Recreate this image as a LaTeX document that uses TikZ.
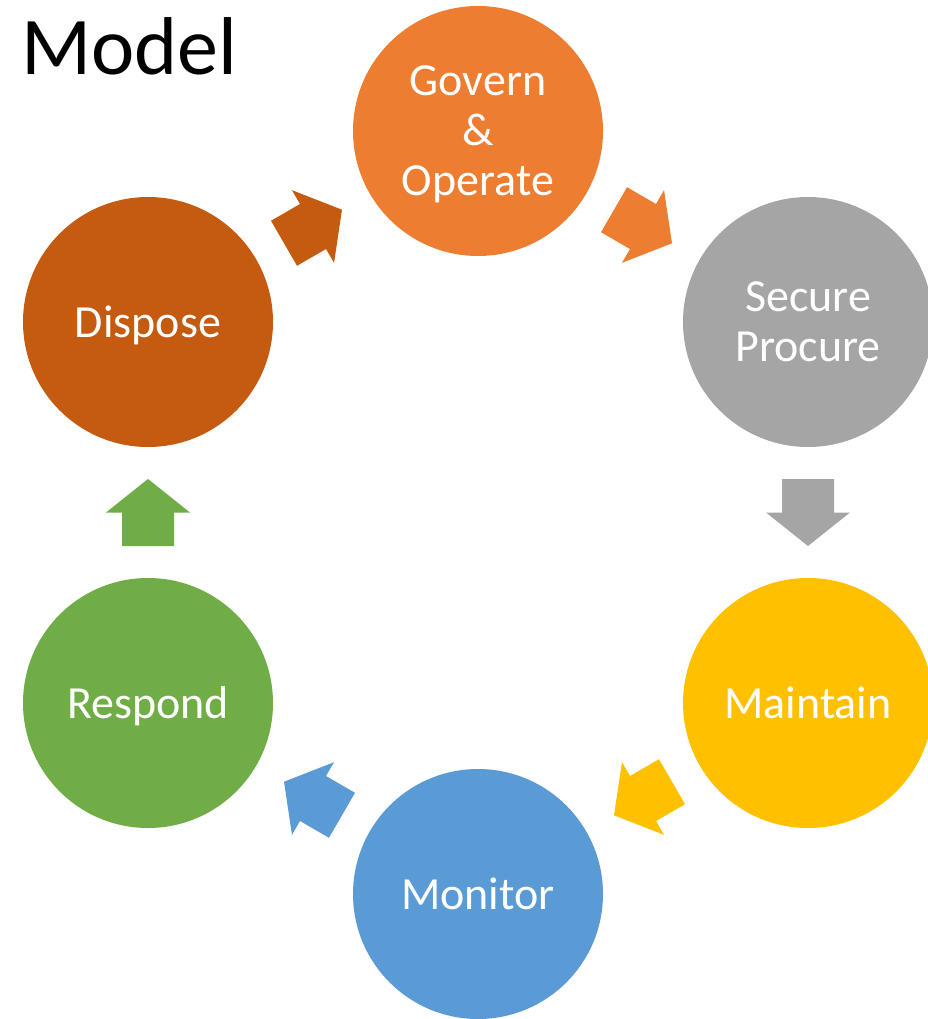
\documentclass[tikz,border=0pt]{standalone}
\usepackage{fontspec}
\setmainfont{Carlito}
\usetikzlibrary{calc}

\definecolor{cGovern}{HTML}{ED7D31}
\definecolor{cSecure}{HTML}{A5A5A5}
\definecolor{cMaintain}{HTML}{FFC000}
\definecolor{cMonitor}{HTML}{5B9BD5}
\definecolor{cRespond}{HTML}{70AD47}
\definecolor{cDispose}{HTML}{C55A11}

\tikzset{
  stage/.style={circle, fill=#1, minimum size=250pt, inner sep=0pt,
    text=white, align=center, text depth=0pt,
    font=\fontsize{46}{50}\selectfont},
}

% block arrow halfway between two stages, pointing from #1 to #2
\newcommand\cyclearrow[3]{%
  \fill[#3] let \p1=(#1.center), \p2=(#2.center),
      \n1={atan2(\y2-\y1,\x2-\x1)} in
    [shift={($(\p1)!0.5!(\p2)$)}, rotate=\n1]
    (-33.5,-26) -- (0,-26) -- (0,-42) -- (33.5,0) -- (0,42) -- (0,26)
    -- (-33.5,26) -- cycle;
}

\begin{document}
\begin{tikzpicture}[x=1pt,y=-1pt]
  \useasboundingbox (0,0) rectangle (928,1019);
  \clip (0,0) rectangle (928,1019);

  \node[anchor=base west, inner sep=0pt,
        font=\fontsize{82}{96}\selectfont] (title) at (21,75) {Model};

  \node[stage=cGovern]   (gov) at (478,131) {Govern\\\&\\Operate};
  \node[stage=cSecure]   (sec) at (808,322) {Secure\\Procure};
  \node[stage=cMaintain] (mnt) at (808,703) {Maintain};
  \node[stage=cMonitor]  (mon) at (478,894) {Monitor};
  \node[stage=cRespond]  (res) at (148,703) {Respond};
  \node[stage=cDispose]  (dis) at (148,322) {Dispose};

  \cyclearrow{dis}{gov}{cDispose}
  \cyclearrow{gov}{sec}{cGovern}
  \cyclearrow{sec}{mnt}{cSecure}
  \cyclearrow{mnt}{mon}{cMaintain}
  \cyclearrow{mon}{res}{cMonitor}
  \cyclearrow{res}{dis}{cRespond}
\end{tikzpicture}
\end{document}
